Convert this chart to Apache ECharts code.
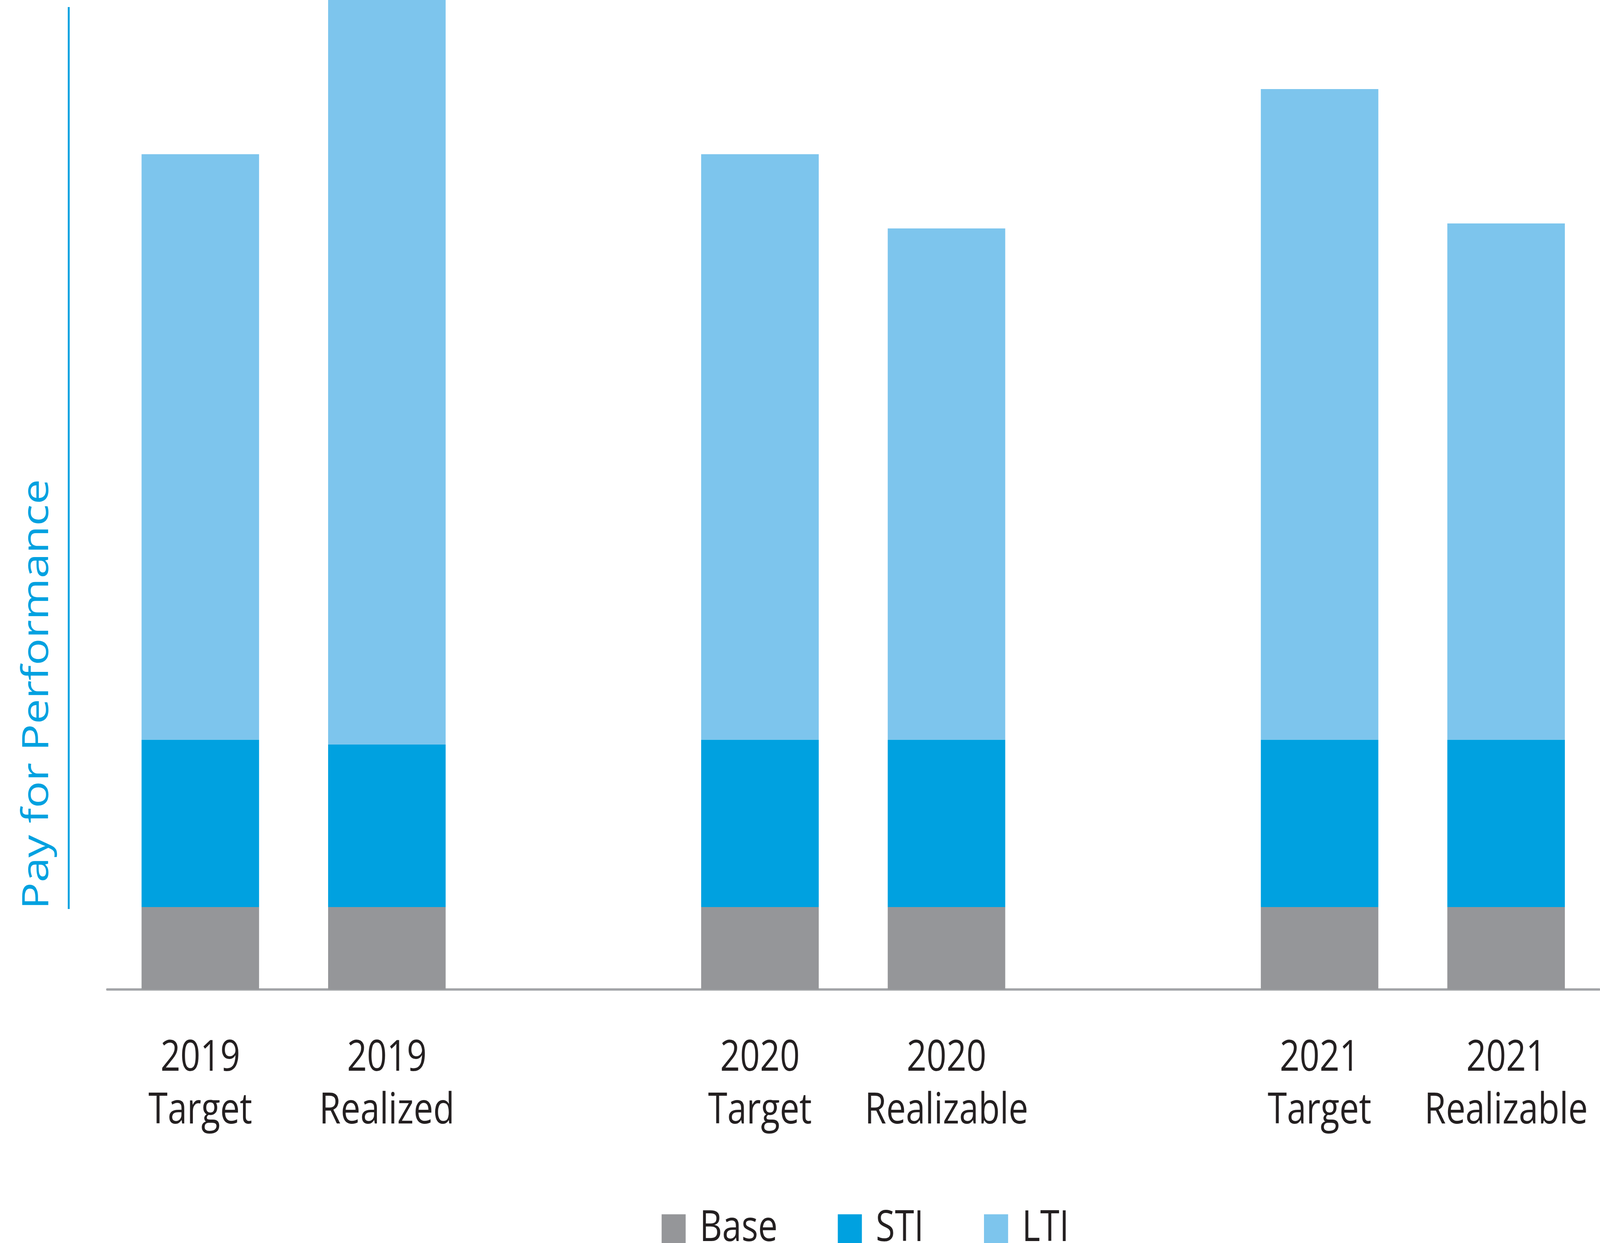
<!DOCTYPE html>
<html>
<head>
<meta charset="utf-8">
<script src="https://cdn.jsdelivr.net/npm/echarts@6/dist/echarts.min.js"></script>
<style>
html,body{margin:0;padding:0;background:#fff;overflow:hidden;}
#chart{width:5052px;height:3182px;transform-origin:0 0;}
</style>
</head>
<body>
<div id="chart"></div>
<script>
const categories = ['2019\nTarget', '2019\nRealized', '', '2020\nTarget', '2020\nRealizable', '', '2021\nTarget', '2021\nRealizable'];
const baseValues = [1, 1, null, 1, 1, null, 1, 1];
const stiValues = [2.03, 1.97, null, 2.03, 2.03, null, 2.03, 2.03];
const ltiValues = [7.10, 9.03, null, 7.10, 6.20, null, 7.89, 6.26];
const seriesNames = ['Base', 'STI', 'LTI'];
const yAxisTitle = 'Pay for Performance';

// The browser viewport may be narrower than the 5052px design width; fit it horizontally.
const el = document.getElementById('chart');
const sx = Math.min(1, window.innerWidth / 5052);
if (sx < 1) { el.style.transform = 'scale(' + sx + ',1)'; }

const FONT = 'Open Sans';
const chart = echarts.init(el);
chart.setOption({
  animation: false,
  backgroundColor: '#ffffff',
  grid: { left: 338, right: 2, top: 0, bottom: 649, containLabel: false },
  legend: {
    data: seriesNames,
    left: 2084,
    top: 3086,
    itemWidth: 76,
    itemHeight: 75,
    itemGap: 190,
    icon: 'rect',
    textStyle: { fontFamily: FONT, fontSize: 110, color: '#231F20', padding: [0, 0, 0, 39] }
  },
  xAxis: {
    type: 'category',
    data: categories,
    offset: 3,
    axisLine: { show: true, lineStyle: { color: '#A3A5A8', width: 6 } },
    axisTick: { show: false },
    axisLabel: {
      interval: 0,
      margin: 106,
      fontFamily: FONT,
      fontSize: 110,
      lineHeight: 135,
      color: '#231F20'
    },
    splitLine: { show: false }
  },
  yAxis: {
    type: 'value',
    min: 0,
    max: 12,
    show: false
  },
  series: [
    { name: seriesNames[0], type: 'bar', stack: 'pay', barWidth: '63%', data: baseValues, itemStyle: { color: '#959699' } },
    { name: seriesNames[1], type: 'bar', stack: 'pay', barWidth: '63%', data: stiValues, itemStyle: { color: '#00A1E0' } },
    { name: seriesNames[2], type: 'bar', stack: 'pay', barWidth: '63%', data: ltiValues, itemStyle: { color: '#7DC5ED' } }
  ],
  graphic: [
    { type: 'rect', shape: { x: 214, y: 18, width: 6, height: 2309 }, style: { fill: '#00A1E0' }, silent: true },
    { type: 'text', x: 119, y: 2328, rotation: Math.PI / 2,
      style: { text: yAxisTitle, fontFamily: FONT, fontSize: 115, fill: '#00A1E0', align: 'left', verticalAlign: 'middle' }, silent: true }
  ]
});
</script>
</body>
</html>
